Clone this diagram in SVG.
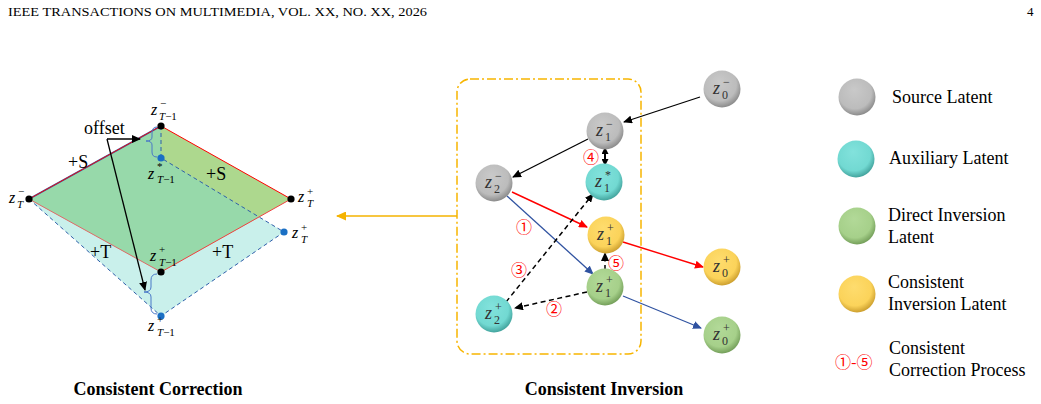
<svg xmlns="http://www.w3.org/2000/svg" width="1041" height="404" viewBox="0 0 1041 404">
<style>
text{font-family:"Liberation Serif","Times New Roman",serif;fill:#000}
.hdr{font-size:13px}
.lab{font-size:18px}
.ttl{font-size:18px;font-weight:bold}
.z{font-size:16px;font-style:italic}
.s{font-size:11px}
.nz{font-size:18px;font-style:italic;fill:#333}
.ns{font-size:12px;fill:#333}
.cn{font-family:"Noto Sans CJK SC","DejaVu Sans",sans-serif;font-size:16px;fill:#ff0000}
.dash{stroke:#2f5faa;stroke-width:1;stroke-dasharray:4 3;fill:none}
.blk{stroke:#000;stroke-width:1.3;fill:none}
.bd{stroke:#000;stroke-width:1.5;stroke-dasharray:5 3.5;fill:none}
</style>
<defs>
<marker id="ak" markerWidth="9" markerHeight="8" refX="8" refY="4" orient="auto" markerUnits="userSpaceOnUse"><path d="M0,0 L9,4 L0,8 Z" fill="#000"/></marker>
<marker id="ak2" markerWidth="7" markerHeight="7" refX="6" refY="3.5" orient="auto-start-reverse" markerUnits="userSpaceOnUse"><path d="M0,0 L7,3.5 L0,7 Z" fill="#000"/></marker>
<marker id="ar" markerWidth="9" markerHeight="8" refX="8" refY="4" orient="auto" markerUnits="userSpaceOnUse"><path d="M0,0 L9,4 L0,8 Z" fill="#ff0000"/></marker>
<marker id="ab" markerWidth="9" markerHeight="8" refX="8" refY="4" orient="auto" markerUnits="userSpaceOnUse"><path d="M0,0 L9,4 L0,8 Z" fill="#2f52a0"/></marker>
<marker id="ao" markerWidth="10" markerHeight="9" refX="9" refY="4.5" orient="auto" markerUnits="userSpaceOnUse"><path d="M0,0 L10,4.5 L0,9 Z" fill="#f5b300"/></marker>
<radialGradient id="gGray" cx="0.45" cy="0.4" r="0.62" fx="0.42" fy="0.3"><stop offset="0" stop-color="#c9c9c9"/><stop offset="0.72" stop-color="#bcbcbc"/><stop offset="1" stop-color="#868686"/></radialGradient>
<radialGradient id="gCyan" cx="0.45" cy="0.4" r="0.62" fx="0.42" fy="0.3"><stop offset="0" stop-color="#82e2dc"/><stop offset="0.72" stop-color="#72d9d2"/><stop offset="1" stop-color="#3e9e98"/></radialGradient>
<radialGradient id="gGreen" cx="0.45" cy="0.4" r="0.62" fx="0.42" fy="0.3"><stop offset="0" stop-color="#b2d998"/><stop offset="0.72" stop-color="#a6d08a"/><stop offset="1" stop-color="#6f9a55"/></radialGradient>
<radialGradient id="gYel" cx="0.45" cy="0.4" r="0.62" fx="0.42" fy="0.3"><stop offset="0" stop-color="#fedc6e"/><stop offset="0.72" stop-color="#fbd35a"/><stop offset="1" stop-color="#c89a2a"/></radialGradient>
<clipPath id="rh"><polygon points="29,199 161,126 291,199 161,272"/></clipPath>
</defs>

<text class="hdr" x="8" y="16" textLength="419" lengthAdjust="spacingAndGlyphs">IEEE TRANSACTIONS ON MULTIMEDIA, VOL. XX, NO. XX, 2026</text>
<text class="hdr" x="1027" y="16">4</text>

<!-- Left: Consistent Correction -->
<g id="planes">
<polygon points="29,199 161,126 161,158 284,232 161,316" fill="#c9f0eb"/>
<polygon points="29,199 161,126 291,199 161,272" fill="#add88e"/>
<polygon points="29,199 161,126 161,158 284,232 161,316" fill="#97d9aa" clip-path="url(#rh)"/>
<line x1="29" y1="199" x2="161" y2="126" stroke="#2f5faa" stroke-width="1.6"/>
<path class="dash" d="M161,126 L161,158 L284,232 L161,316 L29,199"/>
<line x1="29" y1="199" x2="161" y2="126" stroke="#ff0000" stroke-width="0.9"/>
<line x1="161" y1="126" x2="291" y2="199" stroke="#ff0000" stroke-width="1"/>
<line x1="291" y1="199" x2="161" y2="272" stroke="#f04040" stroke-width="1"/>
<line x1="161" y1="272" x2="29" y2="199" stroke="#e06a6a" stroke-width="1"/>
<path d="M157,127 Q152,127 152,133 L152,137 Q152,141 146,141 Q152,141 152,145 L152,152 Q152,157 157,157" stroke="#4a78c8" stroke-width="1" fill="none"/>
<path d="M157,274 Q151,274 151,280 L151,287 Q151,292 144,292 Q151,292 151,297 L151,308 Q151,314 157,314" stroke="#4a78c8" stroke-width="1" fill="none"/>
</g>
<g id="points">
<circle cx="29" cy="199" r="3.6" fill="#000"/>
<circle cx="161" cy="126" r="3.6" fill="#000"/>
<circle cx="291" cy="199" r="3.6" fill="#000"/>
<circle cx="161" cy="272" r="3.6" fill="#000"/>
<circle cx="161" cy="158" r="3.6" fill="#1a6fc4"/>
<circle cx="284" cy="232" r="3.6" fill="#1a6fc4"/>
<circle cx="161" cy="316" r="3.6" fill="#1a6fc4"/>
</g>
<g id="offset-arrows">
<text class="lab" x="84" y="134">offset</text>
<line class="blk" x1="107" y1="139" x2="140" y2="139" marker-end="url(#ak)"/>
<line class="blk" x1="107" y1="139" x2="145" y2="290" marker-end="url(#ak)"/>
</g>
<g id="plane-labels">
<text class="lab" x="68" y="168">+S</text>
<text class="lab" x="206" y="180">+S</text>
<text class="lab" x="90" y="258">+T</text>
<text class="lab" x="212" y="258">+T</text>
<text class="z" x="9" y="203">z</text><text class="s" x="18" y="195">−</text><text class="s" x="17" y="208" font-style="italic">T</text>
<text class="z" x="151" y="115">z</text><text class="s" x="160" y="107">−</text><text class="s" x="159" y="120"><tspan font-style="italic">T</tspan>−1</text>
<text class="z" x="148" y="179">z</text><text class="s" x="157" y="170">*</text><text class="s" x="157" y="183"><tspan font-style="italic">T</tspan>−1</text>
<text class="z" x="298" y="202">z</text><text class="s" x="307" y="195">+</text><text class="s" x="307" y="207" font-style="italic">T</text>
<text class="z" x="292" y="238">z</text><text class="s" x="301" y="231">+</text><text class="s" x="301" y="243" font-style="italic">T</text>
<text class="z" x="150" y="261">z</text><text class="s" x="159" y="253">+</text><text class="s" x="159" y="266"><tspan font-style="italic">T</tspan>−1</text>
<text class="z" x="148" y="331">z</text><text class="s" x="157" y="323">+</text><text class="s" x="157" y="336"><tspan font-style="italic">T</tspan>−1</text>
</g>
<text class="ttl" x="158" y="395" text-anchor="middle">Consistent Correction</text>

<!-- Middle: Consistent Inversion -->
<g id="box">
<rect x="457" y="79" width="184" height="275" rx="13" fill="none" stroke="#f7b500" stroke-width="1.5" stroke-dasharray="9 3 2 3"/>
</g>
<g id="connectors">
<line x1="457" y1="216" x2="337" y2="216" stroke="#f5b300" stroke-width="1.5" marker-end="url(#ao)"/>
<line class="blk" x1="700" y1="97" x2="624" y2="122" marker-end="url(#ak)"/>
<line class="blk" x1="588" y1="139" x2="513" y2="177" marker-end="url(#ak)"/>
<line x1="605" y1="148" x2="605" y2="165" stroke="#000" stroke-width="2" marker-start="url(#ak2)" marker-end="url(#ak2)"/>
<line x1="512" y1="192" x2="587" y2="227" stroke="#ff0000" stroke-width="1.4" marker-end="url(#ar)"/>
<line x1="507" y1="196" x2="593" y2="274" stroke="#2f52a0" stroke-width="1.3" marker-end="url(#ab)"/>
<line x1="623" y1="242" x2="703" y2="267" stroke="#ff0000" stroke-width="1.4" marker-end="url(#ar)"/>
<line x1="623" y1="296" x2="701" y2="328" stroke="#2f52a0" stroke-width="1.3" marker-end="url(#ab)"/>
<line class="bd" x1="605" y1="270" x2="605" y2="253" marker-end="url(#ak)"/>
<line class="bd" x1="587" y1="292" x2="515" y2="308" marker-end="url(#ak)"/>
<line class="bd" x1="506" y1="302" x2="593" y2="194" marker-end="url(#ak)"/>
</g>
<g id="steps">
<text class="cn" x="524" y="233" text-anchor="middle">①</text>
<text class="cn" x="554" y="315" text-anchor="middle">②</text>
<text class="cn" x="519" y="276" text-anchor="middle">③</text>
<text class="cn" x="591" y="163" text-anchor="middle">④</text>
<text class="cn" x="616" y="269" text-anchor="middle">⑤</text>
</g>
<g id="n-z0m"><circle cx="722" cy="89" r="18.5" fill="url(#gGray)"/><text class="nz" x="713" y="94">z</text><text class="ns" x="723" y="86">−</text><text class="ns" x="722" y="99">0</text></g>
<g id="n-z1m"><circle cx="605" cy="131" r="18.5" fill="url(#gGray)"/><text class="nz" x="596" y="136">z</text><text class="ns" x="606" y="128">−</text><text class="ns" x="605" y="141">1</text></g>
<g id="n-z2m"><circle cx="494" cy="183" r="18.5" fill="url(#gGray)"/><text class="nz" x="485" y="188">z</text><text class="ns" x="495" y="180">−</text><text class="ns" x="494" y="193">2</text></g>
<g id="n-z1s"><circle cx="604" cy="182" r="18.5" fill="url(#gCyan)"/><text class="nz" x="595" y="187">z</text><text class="ns" x="605" y="179">*</text><text class="ns" x="604" y="192">1</text></g>
<g id="n-z1y"><circle cx="606" cy="235" r="18.5" fill="url(#gYel)"/><text class="nz" x="597" y="240">z</text><text class="ns" x="607" y="232">+</text><text class="ns" x="606" y="245">1</text></g>
<g id="n-z1g"><circle cx="605" cy="287" r="18.5" fill="url(#gGreen)"/><text class="nz" x="596" y="292">z</text><text class="ns" x="606" y="284">+</text><text class="ns" x="605" y="297">1</text></g>
<g id="n-z2p"><circle cx="494" cy="314" r="18.5" fill="url(#gCyan)"/><text class="nz" x="485" y="319">z</text><text class="ns" x="495" y="311">+</text><text class="ns" x="494" y="324">2</text></g>
<g id="n-z0y"><circle cx="722" cy="267" r="18.5" fill="url(#gYel)"/><text class="nz" x="713" y="272">z</text><text class="ns" x="723" y="264">+</text><text class="ns" x="722" y="277">0</text></g>
<g id="n-z0g"><circle cx="722" cy="335" r="18.5" fill="url(#gGreen)"/><text class="nz" x="713" y="340">z</text><text class="ns" x="723" y="332">+</text><text class="ns" x="722" y="345">0</text></g>
<text class="ttl" x="604" y="395" text-anchor="middle">Consistent Inversion</text>

<!-- Legend -->
<g id="legend">
<circle cx="857" cy="97" r="18.5" fill="url(#gGray)"/>
<text class="lab" x="892" y="103">Source Latent</text>
<circle cx="856" cy="159" r="18.5" fill="url(#gCyan)"/>
<text class="lab" x="889" y="164">Auxiliary Latent</text>
<circle cx="857" cy="226" r="18.5" fill="url(#gGreen)"/>
<text class="lab" x="888" y="221">Direct Inversion</text>
<text class="lab" x="888" y="243">Latent</text>
<circle cx="857" cy="294" r="18.5" fill="url(#gYel)"/>
<text class="lab" x="888" y="288">Consistent</text>
<text class="lab" x="888" y="310">Inversion Latent</text>
<text class="cn" x="835" y="368" font-size="17">①-⑤</text>
<text class="lab" x="889" y="354">Consistent</text>
<text class="lab" x="889" y="376">Correction Process</text>
</g>
</svg>
